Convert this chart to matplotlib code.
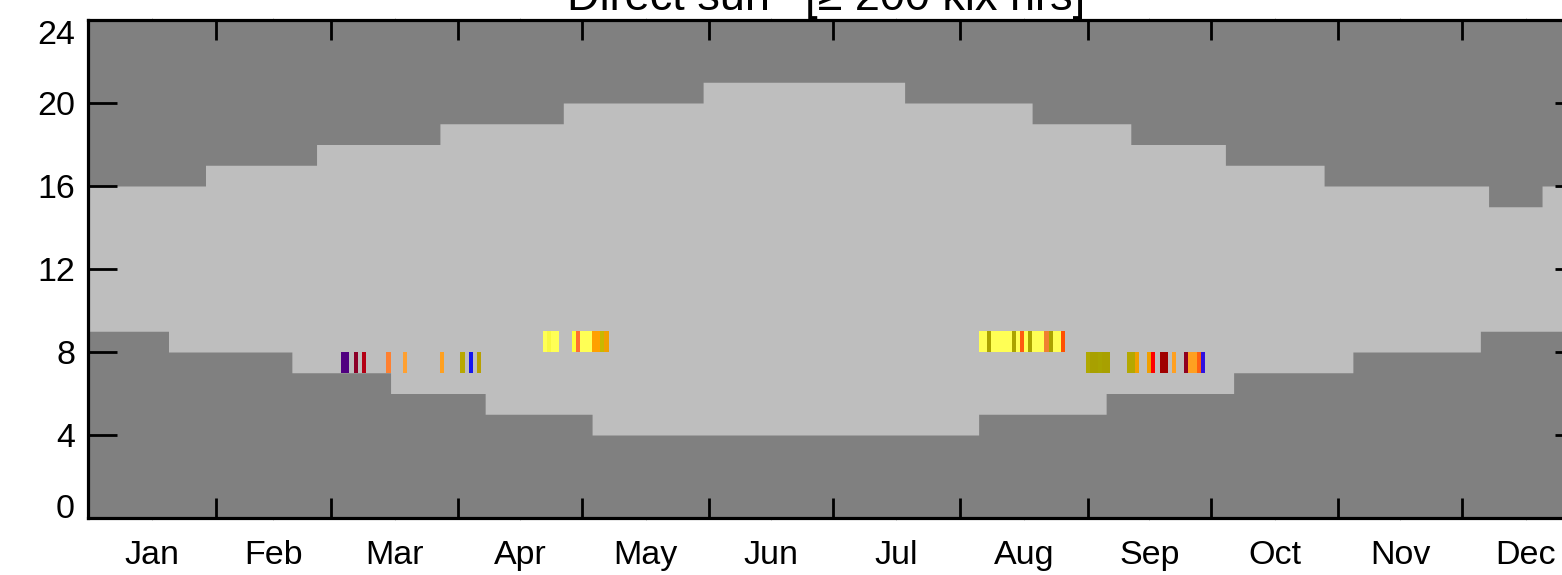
import numpy as np
import matplotlib
matplotlib.use("Agg")
import matplotlib.pyplot as plt

plt.rcParams['font.family'] = ['Liberation Sans', 'DejaVu Sans']

# Calendar layout
month_names = ['Jan', 'Feb', 'Mar', 'Apr', 'May', 'Jun',
               'Jul', 'Aug', 'Sep', 'Oct', 'Nov', 'Dec']
month_lengths = [31, 28, 31, 30, 31, 30, 31, 31, 30, 31, 30, 31]

# Daylight window: first day of each new sunrise / sunset hour
sunrise_change_days = [0, 20, 50, 74, 97, 123, 217, 248, 279, 308, 339]
sunrise_hours = [9, 8, 7, 6, 5, 4, 5, 6, 7, 8, 9]
sunset_change_days = [0, 29, 56, 86, 116, 150, 199, 230, 254, 277, 301, 341, 354]
sunset_hours = [16, 17, 18, 19, 20, 21, 20, 19, 18, 17, 16, 15, 16]

# Hours receiving direct sun (>= 200 klx): day of year, starting hour, colour
YEL = '#FFFF55'
OLV = '#ABA300'

spring_am_days = [62, 63, 65, 67, 73, 77, 86, 91, 93, 95]
spring_am_hour = 7
spring_am_colors = ['#500080', '#500080', '#8C0028', '#B40014', '#FF8030',
                    '#FFA030', '#FFA020', '#B8A800', '#1414F0', '#B8A000']

spring_pm_days = [111, 112, 113, 114, 118, 119, 120, 121, 122, 123, 124, 125, 126]
spring_pm_hour = 8
spring_pm_colors = [YEL, '#F8F840', YEL, YEL, '#FFFF38', '#FF7030', YEL, YEL, YEL,
                    '#FFA000', '#FFA000', '#C8B800', '#F0A000']

summer_days = list(range(217, 238))
summer_hour = 8
summer_colors = [YEL, YEL, OLV, YEL, YEL, YEL, YEL, YEL, OLV, YEL, '#FF5A10',
                 YEL, OLV, YEL, YEL, YEL, '#F08030', OLV, YEL, YEL, '#FF5000']

autumn_days = [243, 244, 245, 246, 247, 248, 253, 254, 255, 258, 259,
               261, 262, 264, 267, 268, 269, 270, 271]
autumn_hour = 7
autumn_colors = ['#B0A800', '#A8A000', '#A8A000', '#A8A400', '#A8A000', '#A8A000',
                 '#B4A800', '#B4A800', '#F0A000', '#F0A000', '#FF0000',
                 '#A00000', '#A00000', '#FFA020', '#900020', '#FFA020', '#FFA020',
                 '#FF6010', '#3010E0']

# Per-day step series
days = np.arange(365)
sunrise = np.repeat(sunrise_hours, np.diff(sunrise_change_days + [365]))
sunset = np.repeat(sunset_hours, np.diff(sunset_change_days + [365]))

fig = plt.figure(figsize=(15.62, 5.75), dpi=100)
ax = fig.add_axes([0.05653, 0.09913, 0.95755, 0.86609])
ax.set_facecolor('#808080')

ax.fill_between(days, sunrise, sunset, step='mid', color='#bebebe', lw=0, zorder=1)

for d, h, c in [(spring_am_days, spring_am_hour, spring_am_colors),
                (spring_pm_days, spring_pm_hour, spring_pm_colors),
                (summer_days, summer_hour, summer_colors),
                (autumn_days, autumn_hour, autumn_colors)]:
    ax.bar(d, 1, width=1, bottom=h, color=c, linewidth=0, zorder=2)

ax.set_xlim(0, 363.7)
ax.set_ylim(0, 24)

month_starts = np.cumsum([0] + month_lengths)[:-1]
month_mids = month_starts + np.array(month_lengths) / 2
ax.set_xticks(month_starts)
ax.set_xticklabels([])
ax.set_xticks(month_mids, minor=True)
ax.set_xticklabels(month_names, minor=True)
ax.tick_params(axis='x', which='major', direction='in', length=14.4, width=2,
               top=True, bottom=True, labelbottom=False)
ax.tick_params(axis='x', which='minor', direction='out', length=1.5, width=0.7,
               color='#b8b8b8', top=True, bottom=True, labelsize=24.5, pad=14.2)

yt = np.arange(0, 25, 4)
ax.set_yticks(yt)
ax.set_yticklabels([str(v) for v in yt])
ax.tick_params(axis='y', which='major', direction='in', length=21, width=2,
               left=True, right=True, labelsize=24.5, pad=9.5)
ylabels = ax.get_yticklabels()
ylabels[0].set_verticalalignment('baseline')
ylabels[-1].set_verticalalignment('top')

for sp in ax.spines.values():
    sp.set_linewidth(2.3)
    sp.set_zorder(5)

# Title, partly running off the top edge
fig.text(567 / 1562, 1 - 10 / 575, 'Direct sun', fontsize=32.5,
         ha='left', va='baseline')
fig.text(805 / 1562, 1 - 10 / 575, '[\u2265 200 klx hrs]', fontsize=32.5,
         ha='left', va='baseline')

fig.savefig('out.png', dpi=100)
